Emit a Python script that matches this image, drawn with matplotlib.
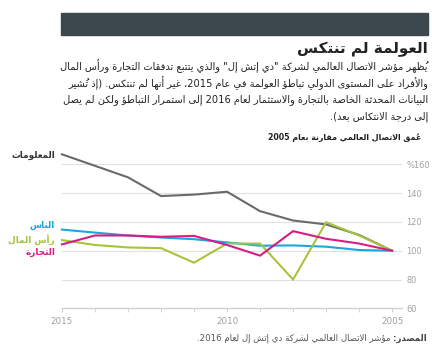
import matplotlib
matplotlib.use('Agg')
import matplotlib.pyplot as plt
from matplotlib.ticker import FixedLocator

# ---------------- data ----------------
years = [2015, 2014, 2013, 2012, 2011, 2010, 2009, 2008, 2007, 2006, 2005]
information = [167, 159, 151, 138, 139, 141, 127.5, 121, 118.3, 111, 100]
people = [114.7, 112.6, 110.6, 109.2, 108, 105.8, 103.5, 103.7, 102.8, 100.5, 100]
capital = [107.4, 104, 102.3, 101.8, 91.7, 105, 105, 80, 119.8, 110.6, 100]
trade = [104.4, 110.6, 110.6, 109.7, 110.3, 104, 96.6, 113.6, 108.3, 105, 100]

series_names = ['المعلومات', 'الناس', 'رأس المال', 'التجارة']
y_ticks = [60, 80, 100, 120, 140, 160]
y_tick_labels = ['60', '80', '100', '120', '140', '%160']
x_major = [2015, 2010, 2005]

title = 'العولمة لم تنتكس'
body_lines = [
    'يُظهر مؤشر الاتصال العالمي لشركة "دي إتش إل" والذي يتتبع تدفقات التجارة ورأس المال',
    'والأفراد على المستوى الدولي تباطؤ العولمة في عام 2015، غير أنها لم تنتكس. (إذ تُشير',
    'البيانات المحدثة الخاصة بالتجارة والاستثمار لعام 2016 إلى استمرار التباطؤ ولكن لم يصل',
    'إلى درجة الانتكاس بعد).',
]
subtitle = 'عُمق الاتصال العالمي مقارنة بعام 2005'
source_bold = 'المصدر:'
source_rest = 'مؤشر الاتصال العالمي لشركة دي إتش إل لعام 2016.'

# ---------------- minimal Arabic shaping + RTL ordering ----------------
_RIGHT = {0x0622: 0xFE81, 0x0623: 0xFE83, 0x0624: 0xFE85, 0x0625: 0xFE87,
          0x0627: 0xFE8D, 0x0629: 0xFE93, 0x062F: 0xFEA9, 0x0630: 0xFEAB,
          0x0631: 0xFEAD, 0x0632: 0xFEAF, 0x0648: 0xFEED, 0x0649: 0xFEEF}
_DUAL = {0x0626: 0xFE89, 0x0628: 0xFE8F, 0x062A: 0xFE95, 0x062B: 0xFE99,
         0x062C: 0xFE9D, 0x062D: 0xFEA1, 0x062E: 0xFEA5, 0x0633: 0xFEB1,
         0x0634: 0xFEB5, 0x0635: 0xFEB9, 0x0636: 0xFEBD, 0x0637: 0xFEC1,
         0x0638: 0xFEC5, 0x0639: 0xFEC9, 0x063A: 0xFECD, 0x0641: 0xFED1,
         0x0642: 0xFED5, 0x0643: 0xFED9, 0x0644: 0xFEDD, 0x0645: 0xFEE1,
         0x0646: 0xFEE5, 0x0647: 0xFEE9, 0x064A: 0xFEF1}
_NONJ = {0x0621: 0xFE80}
_LAMALEF = {0x0622: 0xFEF5, 0x0623: 0xFEF7, 0x0625: 0xFEF9, 0x0627: 0xFEFB}


def _is_mark(c):
    o = ord(c)
    return 0x064B <= o <= 0x065F or o == 0x0670


def _jtype(c):
    o = ord(c)
    if o in _DUAL or o == 0x0640:
        return 'D'
    if o in _RIGHT or o in _LAMALEF.values():
        return 'R'
    if o in _NONJ:
        return 'U'
    return None


def arabic(text):
    cl = []
    for ch in text:
        if _is_mark(ch) and cl:
            cl[-1][1] += ch
        else:
            cl.append([ch, ''])
    merged = []
    i = 0
    while i < len(cl):
        b, m = cl[i]
        if ord(b) == 0x0644 and i + 1 < len(cl) and ord(cl[i + 1][0]) in _LAMALEF:
            merged.append([chr(_LAMALEF[ord(cl[i + 1][0])]), m + cl[i + 1][1], 'LA'])
            i += 2
        else:
            merged.append([b, m, None])
            i += 1
    shaped = []
    for k, (b, m, tag) in enumerate(merged):
        prev = merged[k - 1][0] if k > 0 else None
        nxt = merged[k + 1][0] if k + 1 < len(merged) else None
        pj = prev is not None and _jtype(prev) == 'D'
        nj = nxt is not None and _jtype(nxt) in ('D', 'R')
        o = ord(b)
        if tag == 'LA':
            g = chr(o + 1) if pj else b
        elif o == 0x0640:
            g = b
        elif o in _DUAL:
            base = _DUAL[o]
            if pj and nj:
                g = chr(base + 3)
            elif pj:
                g = chr(base + 1)
            elif nj:
                g = chr(base + 2)
            else:
                g = chr(base)
        elif o in _RIGHT:
            g = chr(_RIGHT[o] + 1) if pj else chr(_RIGHT[o])
        elif o in _NONJ:
            g = chr(_NONJ[o])
        else:
            g = b
        # put the combining mark before its base in visual order so it sits on it
        shaped.append(m + g)
    units = []
    run = ''
    mirror = {'(': ')', ')': '('}
    for s in shaped:
        if s[0].isascii() and s[0].isalnum():
            run += s
        else:
            if run:
                units.append(run)
                run = ''
            units.append(mirror.get(s, s))
    if run:
        units.append(run)
    return ''.join(reversed(units))


# ---------------- figure ----------------
W, H = 432, 351
plt.rcParams['font.family'] = ['DejaVu Sans']
fig = plt.figure(figsize=(W / 100, H / 100), dpi=100)


def P(x, y):
    return (x / W, 1 - y / H)


# header bar
fig.patches.append(plt.Rectangle(P(61, 35), (428 - 61) / W, (35 - 12.7) / H,
                                 transform=fig.transFigure, color='#3d474e', zorder=0))

fig.text(*P(428, 49), arabic(title), ha='right', va='center', fontsize=11,
         fontweight='bold', color='#222222')
for i, line in enumerate(body_lines):
    fig.text(*P(428, 66 + i * 17.0), arabic(line), ha='right', va='center',
             fontsize=7.1, color='#222222')
fig.text(*P(421, 138), arabic(subtitle), ha='right', va='center', fontsize=5.7,
         fontweight='bold', color='#222222')

# axes
ax = fig.add_axes([62 / W, 1 - 308.3 / H, (402 - 62) / W, (308.3 - 150) / H])
colors = ['#6a6a6a', '#1ba6dd', '#a6c43c', '#d81c84']
data = [information, people, capital, trade]
for vals, c in zip(data, colors):
    ax.plot(years, vals, color=c, lw=1.5, clip_on=False, solid_joinstyle='miter', zorder=3)

ax.set_xlim(2015, 2004.7)
ax.set_ylim(60, 170)
for s in ['top', 'right', 'left']:
    ax.spines[s].set_visible(False)
ax.spines['bottom'].set_color('#d0d0d0')
ax.spines['bottom'].set_linewidth(1)
ax.yaxis.set_major_locator(FixedLocator(y_ticks))
ax.set_yticklabels(y_tick_labels)
ax.yaxis.tick_right()
ax.tick_params(axis='y', length=0, labelsize=5.9, labelcolor='#a0a0a0', pad=3)
for yv in y_ticks[1:]:
    ax.axhline(yv, color='#e0e0e0', lw=0.8, zorder=1)
ax.xaxis.set_major_locator(FixedLocator(x_major))
ax.xaxis.set_minor_locator(FixedLocator(years))
ax.set_xticklabels([str(v) for v in x_major])
ax.tick_params(axis='x', which='both', length=3, color='#d0d0d0', direction='out',
               labelsize=6.3, labelcolor='#a0a0a0', pad=3)

# series labels
label_pos = [155, 225, 240, 252]
label_colors = ['#333333', '#1ba6dd', '#a6c43c', '#d81c84']
for name, c, yy in zip(series_names, label_colors, label_pos):
    fig.text(*P(55, yy), arabic(name), ha='right', va='center', fontsize=6.4,
             fontweight='bold', color=c)

# source
sb = fig.text(*P(427, 338), arabic(source_bold), ha='right', va='center', fontsize=6.2,
              fontweight='bold', color='#444444')
fig.add_artist(matplotlib.text.Annotation(arabic(source_rest) + ' ', xy=(0, 0.5), xycoords=sb,
                                          ha='right', va='center', fontsize=6.2, color='#555555'))

fig.savefig('out.png', dpi=100)
